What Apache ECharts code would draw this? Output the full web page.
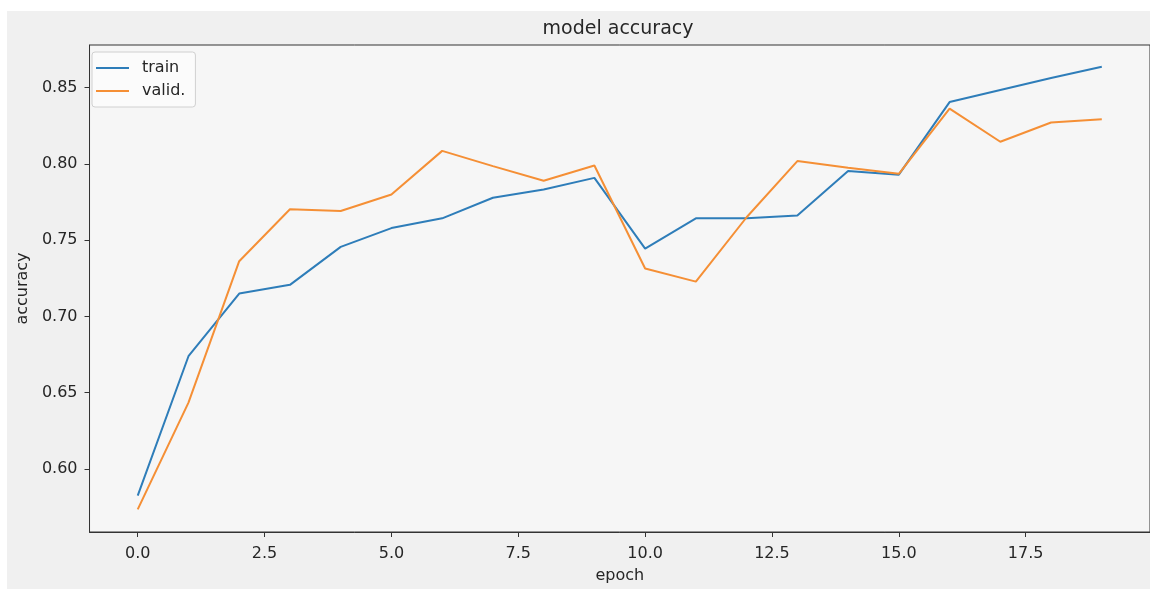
<!DOCTYPE html>
<html>
<head>
<meta charset="utf-8">
<script src="https://cdn.jsdelivr.net/npm/echarts@6/dist/echarts.min.js"></script>
<style>
  html, body { margin: 0; padding: 0; background: #f0f0f0; overflow: hidden; }
  /* white margin at the top and left of the figure, like the reference */
  .strip-top { position: absolute; left: 0; top: 0; right: 0; height: 11px; background: #ffffff; }
  .strip-left { position: absolute; left: 0; top: 0; bottom: 0; width: 7px; background: #ffffff; }
  #chart { position: absolute; left: 7px; top: 11px; width: 1143px; height: 578px; }
</style>
</head>
<body>
<div class="strip-top"></div>
<div class="strip-left"></div>
<div id="chart"></div>
<script>
// epochs and accuracy per epoch
const epochs = [0, 1, 2, 3, 4, 5, 6, 7, 8, 9, 10, 11, 12, 13, 14, 15, 16, 17, 18, 19]
const train = [0.5826, 0.6739, 0.7150, 0.7207, 0.7456, 0.7579, 0.7643, 0.7778, 0.7832, 0.7908,
  0.7444, 0.7643, 0.7643, 0.7661, 0.7953, 0.7929, 0.8405, 0.8484, 0.8563, 0.8636]
const valid = [0.5735, 0.6435, 0.7362, 0.7702, 0.7691, 0.7799, 0.8085, 0.7985, 0.7889, 0.7989,
  0.7314, 0.7228, 0.7650, 0.8018, 0.7975, 0.7935, 0.8362, 0.8145, 0.8271, 0.8292]

const xTicks = [0, 2.5, 5, 7.5, 10, 12.5, 15, 17.5]
const yTicks = [0.60, 0.65, 0.70, 0.75, 0.80, 0.85]

const chart = echarts.init(document.getElementById('chart'))

const textColor = '#262626'
const font = 'DejaVu Sans'

const option = {
  animation: false,
  backgroundColor: '#f0f0f0',
  title: {
    text: 'model accuracy',
    left: 611,
    top: 9,
    padding: 0,
    textAlign: 'center',
    textStyle: { color: textColor, fontFamily: font, fontSize: 19, fontWeight: 'normal' }
  },
  legend: {
    orient: 'vertical',
    left: 85,
    top: 41,
    padding: [8, 10, 8, 4],
    itemWidth: 33,
    itemHeight: 2,
    itemGap: 7,
    icon: 'rect',
    backgroundColor: 'rgba(255,255,255,0.55)',
    borderColor: '#d0d0d0',
    borderWidth: 1,
    borderRadius: 3,
    textStyle: { color: textColor, fontFamily: font, fontSize: 16, padding: [0, 0, 0, 8] },
    data: ['train', 'valid.']
  },
  grid: {
    left: 77,
    top: 34,
    right: -3,
    bottom: 52,
    show: true,
    backgroundColor: '#f6f6f6',
    borderColor: '#333333',
    borderWidth: 1
  },
  xAxis: {
    type: 'value',
    min: -0.95,
    max: 19.95,
    name: 'epoch',
    nameLocation: 'middle',
    nameGap: 36,
    nameTextStyle: { color: textColor, fontFamily: font, fontSize: 16 },
    axisLine: { show: true, onZero: false, lineStyle: { color: '#333333', width: 1 } },
    axisTick: { show: true, length: 5, customValues: xTicks, lineStyle: { color: '#333333' } },
    axisLabel: {
      customValues: xTicks,
      margin: 14,
      color: textColor,
      fontFamily: font,
      fontSize: 16,
      formatter: v => v.toFixed(1)
    },
    splitLine: { show: false }
  },
  yAxis: {
    type: 'value',
    min: 0.5587,
    max: 0.8779,
    name: 'accuracy',
    nameLocation: 'middle',
    nameGap: 55,
    nameTextStyle: { color: textColor, fontFamily: font, fontSize: 16 },
    axisLine: { show: true, onZero: false, lineStyle: { color: '#333333', width: 1 } },
    axisTick: { show: true, length: 5, customValues: yTicks, lineStyle: { color: '#333333' } },
    axisLabel: {
      customValues: yTicks,
      margin: 12,
      color: textColor,
      fontFamily: font,
      fontSize: 16,
      formatter: v => v.toFixed(2)
    },
    splitLine: { show: false }
  },
  series: [
    {
      name: 'train',
      type: 'line',
      data: epochs.map((e, i) => [e, train[i]]),
      symbol: 'none',
      lineStyle: { color: '#2e7db9', width: 2 },
      itemStyle: { color: '#2e7db9' }
    },
    {
      name: 'valid.',
      type: 'line',
      data: epochs.map((e, i) => [e, valid[i]]),
      symbol: 'none',
      lineStyle: { color: '#f58f35', width: 2 },
      itemStyle: { color: '#f58f35' }
    }
  ]
}

chart.setOption(option)
</script>
</body>
</html>
